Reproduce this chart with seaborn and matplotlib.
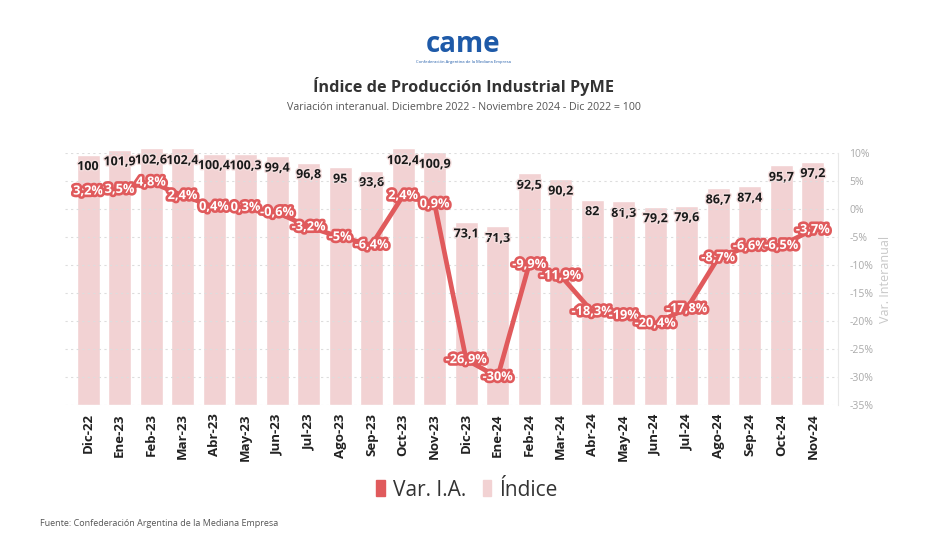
import pandas as pd
import matplotlib.pyplot as plt
import matplotlib.patheffects as pe
from matplotlib.patches import Patch
import seaborn as sns

# Datos del gráfico
meses = ['Dic-22', 'Ene-23', 'Feb-23', 'Mar-23', 'Abr-23', 'May-23', 'Jun-23', 'Jul-23',
         'Ago-23', 'Sep-23', 'Oct-23', 'Nov-23', 'Dic-23', 'Ene-24', 'Feb-24', 'Mar-24',
         'Abr-24', 'May-24', 'Jun-24', 'Jul-24', 'Ago-24', 'Sep-24', 'Oct-24', 'Nov-24']
indice = [100, 101.9, 102.6, 102.4, 100.4, 100.3, 99.4, 96.8, 95, 93.6, 102.4, 100.9,
          73.1, 71.3, 92.5, 90.2, 82, 81.3, 79.2, 79.6, 86.7, 87.4, 95.7, 97.2]
var_ia = [3.2, 3.5, 4.8, 2.4, 0.4, 0.3, -0.6, -3.2, -5, -6.4, 2.4, 0.9,
          -26.9, -30, -9.9, -11.9, -18.3, -19, -20.4, -17.8, -8.7, -6.6, -6.5, -3.7]
ticks_var = [-35, -30, -25, -20, -15, -10, -5, 0, 5, 10]

df = pd.DataFrame({'mes': meses, 'indice': indice, 'var': var_ia})

ROJO = '#e05a5c'
ROSA = '#f2d2d3'

sns.set_style('white')
plt.rcParams['font.family'] = ['Open Sans', 'DejaVu Sans']

fig = plt.figure(figsize=(9.27, 5.46), dpi=100)
ax = fig.add_axes([65 / 927, 1 - 405 / 546, (838 - 65) / 927, (405 - 153) / 546])

# barras del índice
sns.barplot(data=df, x='mes', y='indice', color=ROSA, width=0.73, saturation=1, ax=ax)
for b in ax.patches:
    b.set_clip_on(False)
ax.set_ylim(0, 100.6)
ax.set_xlim(-0.73, 23.8)
ax.set_yticks([])
ax.set_xlabel('')
ax.set_ylabel('')
for s in ax.spines.values():
    s.set_visible(False)
ax.tick_params(axis='x', length=0, pad=6)
for lbl in ax.get_xticklabels():
    lbl.set_rotation(90)
    lbl.set_fontweight('bold')
    lbl.set_fontsize(9.5)
    lbl.set_color('#222222')

for i, v in enumerate(indice):
    txt = f'{v:g}'.replace('.', ',')
    ax.annotate(txt, (i, v), xytext=(0, -4), textcoords='offset points',
                ha='center', va='top', fontsize=9, fontweight='bold', color='#1a1a1a',
                annotation_clip=False,
                path_effects=[pe.withStroke(linewidth=2, foreground='#f5dede')])

# línea de variación interanual
ax2 = ax.twinx()
sns.lineplot(data=df, x='mes', y='var', color=ROJO, linewidth=3.4, ax=ax2,
             solid_joinstyle='round')
ax2.set_ylim(-35, 10)
ax2.set_xlim(-0.73, 23.8)
ax2.set_yticks(ticks_var)
ax2.set_yticklabels([f'{t}%' for t in ticks_var])
ax2.tick_params(axis='y', length=0, labelsize=7.5, labelcolor='#aaaaaa', pad=8)
ax2.set_ylabel('Var. Interanual', color='#c8c8c8', fontsize=9)
ax2.set_xlabel('')
for t in ticks_var:
    ax2.axhline(t, color='#dddddd', linestyle=(0, (2, 3)), linewidth=0.8, zorder=0)
for s in ['top', 'left', 'bottom']:
    ax2.spines[s].set_visible(False)
ax2.spines['right'].set_color('#e8e8e8')

for i, v in enumerate(var_ia):
    txt = f'{v:g}'.replace('.', ',') + '%'
    ax2.text(i, v, txt, ha='center', va='center', fontsize=9.2, fontweight='bold',
             color='white', zorder=5,
             path_effects=[pe.withStroke(linewidth=3.8, foreground=ROJO)])

# títulos y logo
fig.text(0.5, 1 - 45 / 546, 'came', ha='center', va='center', fontsize=20,
         fontweight='bold', color='#1e5aa8')
fig.text(0.5, 1 - 62 / 546, 'Confederación Argentina de la Mediana Empresa', ha='center',
         va='center', fontsize=3, color='#1e5aa8')
fig.text(0.5, 1 - 86 / 546, 'Índice de Producción Industrial PyME', ha='center',
         va='center', fontsize=11.7, fontweight='bold', color='#333333')
fig.text(0.5, 1 - 107 / 546, 'Variación interanual. Diciembre 2022 - Noviembre 2024 - Dic 2022 = 100',
         ha='center', va='center', fontsize=7.7, color='#555555')

# leyenda
handles = [Patch(color=ROJO, label='Var. I.A.'), Patch(color=ROSA, label='Índice')]
fig.legend(handles=handles, loc='center', bbox_to_anchor=(467 / 927, 1 - 490 / 546),
           ncol=2, frameon=False, fontsize=15, handlelength=0.4, handleheight=0.8,
           handletextpad=0.4, columnspacing=0.8, labelcolor='#333333')

fig.text(40 / 927, 1 - 524 / 546, 'Fuente: Confederación Argentina de la Mediana Empresa',
         ha='left', va='center', fontsize=6.5, color='#555555')

fig.savefig('out.png', dpi=100, facecolor='white')
